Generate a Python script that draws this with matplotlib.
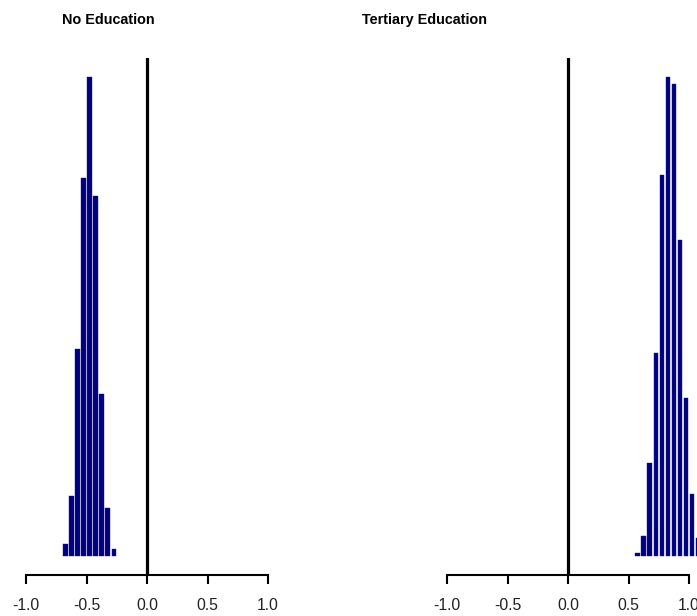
import matplotlib
matplotlib.use("Agg")
import matplotlib.pyplot as plt
import numpy as np

# Data: histogram bin midpoints and relative densities
no_edu_mids = [-0.675, -0.625, -0.575, -0.525, -0.475, -0.425, -0.375, -0.325, -0.275]
no_edu_dens = [0.14, 0.70, 2.42, 4.41, 5.59, 4.20, 1.89, 0.56, 0.08]

tert_mids = [0.575, 0.625, 0.675, 0.725, 0.775, 0.825, 0.875, 0.925, 0.975, 1.025, 1.075]
tert_dens = [0.04, 0.25, 1.16, 2.53, 4.74, 5.96, 5.87, 3.93, 1.96, 0.77, 0.22]

titles = ["No Education", "Tertiary Education"]
xticks = [-1.0, -0.5, 0.0, 0.5, 1.0]
xticklabels = ["-1.0", "-0.5", "0.0", "0.5", "1.0"]

W, H = 697, 616
fig = plt.figure(figsize=(W / 100, H / 100), dpi=100)

unit = 121.0  # pixels per x unit
xl = (-1.1, 1.1)
y_top, y_bot = 58, 575

def make_axes(zero_px):
    left = zero_px + xl[0] * unit
    width = (xl[1] - xl[0]) * unit
    return fig.add_axes([left / W, 1 - y_bot / H, width / W, (y_bot - y_top) / H])

panels = [
    (147, no_edu_mids, no_edu_dens, 108),
    (568, tert_mids, tert_dens, 425),
]

for i, (zpx, mids, dens, tx) in enumerate(panels):
    ax = make_axes(zpx)
    mx = max(dens)
    ax.bar(mids, dens, width=0.036, color="#000080", edgecolor="#1a1a90", linewidth=0.3)
    ax.set_xlim(*xl)
    ax.set_ylim(-0.04 * mx, 1.04 * mx)
    ax.axvline(0, color="black", lw=2.3)
    for s in ["top", "right", "left"]:
        ax.spines[s].set_visible(False)
    ax.spines["bottom"].set_bounds(-1, 1)
    ax.spines["bottom"].set_linewidth(1.5)
    ax.set_yticks([])
    ax.set_xticks(xticks)
    ax.set_xticklabels(xticklabels, fontsize=11.3, family=["Liberation Sans", "DejaVu Sans"], color="#222222")
    ax.tick_params(axis="x", length=6.5, width=1.5, pad=10, direction="out")
    fig.text(tx / W, 1 - 20 / H, titles[i], ha="center", va="center", fontsize=10.4,
             fontweight="bold", family=["Liberation Sans Narrow", "Liberation Sans", "DejaVu Sans"])

fig.savefig("out.png", dpi=100)
